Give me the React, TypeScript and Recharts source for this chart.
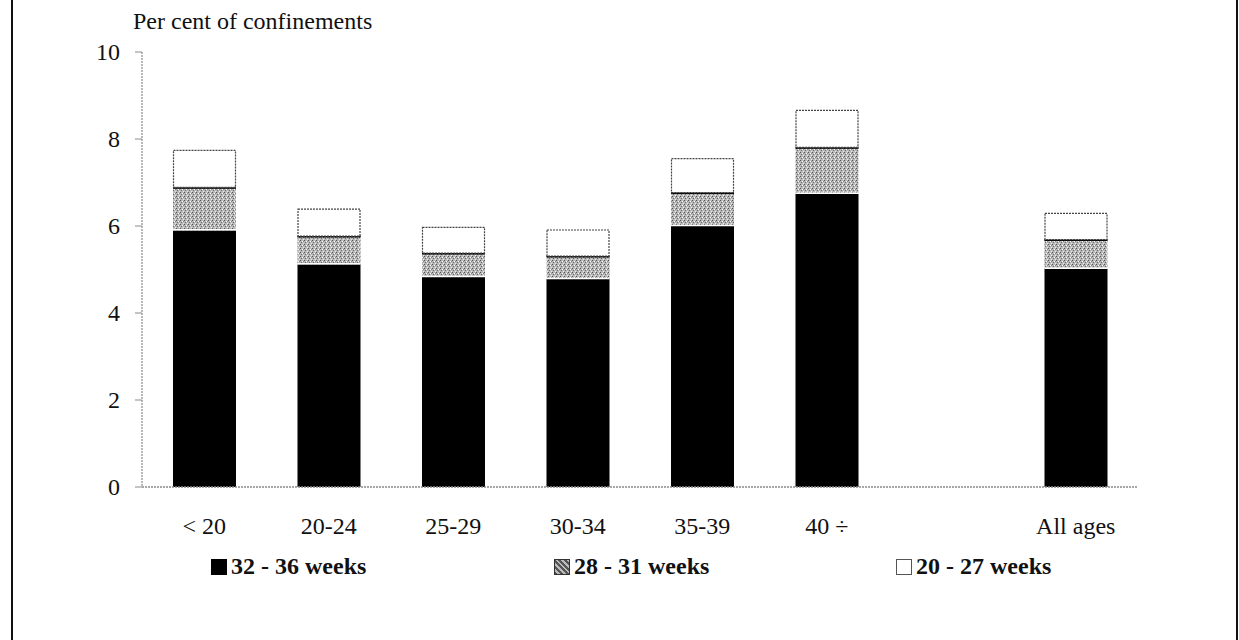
import React from "react";
import { BarChart, Bar, XAxis, YAxis } from "recharts";

const categories = ["< 20", "20-24", "25-29", "30-34", "35-39", "40 ÷", "", "All ages"];
const weeks32to36 = [5.9, 5.12, 4.83, 4.78, 6.0, 6.74, null, 5.02];
const weeks28to31 = [1.0, 0.66, 0.56, 0.54, 0.78, 1.08, null, 0.68];
const weeks20to27 = [0.85, 0.62, 0.59, 0.6, 0.78, 0.85, null, 0.6];
const yTicks = [0, 2, 4, 6, 8, 10];
const seriesNames = ["32 - 36 weeks", "28 - 31 weeks", "20 - 27 weeks"];

const data = categories.map((name, i) => ({
  name,
  a: weeks32to36[i],
  b: weeks28to31[i],
  c: weeks20to27[i],
}));

const SERIF = "'Liberation Serif', 'DejaVu Serif', serif";
const GRID = "#8a8a8a";
const FS = 24;

const GreyShape = (props: any) => {
  const { x, y, width, height } = props;
  if (!height || height <= 0) return null;
  return (
    <g>
      <rect x={x} y={y} width={width} height={height} fill="url(#stipple)" />
      <line x1={x} x2={x + width} y1={y + 1} y2={y + 1} stroke="#000" strokeWidth={2} />
      <line x1={x} x2={x + width} y1={y + height - 0.5} y2={y + height - 0.5} stroke="#fff" strokeWidth={1.5} />
    </g>
  );
};

const WhiteShape = (props: any) => {
  const { x, y, width, height } = props;
  if (!height || height <= 0) return null;
  return (
    <rect
      x={x + 0.5}
      y={y + 0.5}
      width={width - 1}
      height={height}
      fill="#fff"
      stroke="#444"
      strokeWidth={1.2}
      strokeDasharray="2 1"
    />
  );
};

const XTick = (props: any) => {
  const { x, y, payload } = props;
  return (
    <text x={x} y={y + 45} textAnchor="middle" fontFamily={SERIF} fontSize={FS} fill="#111">
      {payload.value}
    </text>
  );
};

const YTick = (props: any) => {
  const { x, y, payload } = props;
  return (
    <text x={x} y={y + 8} textAnchor="end" fontFamily={SERIF} fontSize={FS} fill="#111">
      {payload.value}
    </text>
  );
};

const LegendSwatch = ({ kind }: { kind: number }) => {
  const common: React.CSSProperties = {
    display: "inline-block",
    width: 16,
    height: 16,
    marginRight: 4,
    verticalAlign: "-1px",
    boxSizing: "border-box",
  };
  if (kind === 0) return <span style={{ ...common, background: "#000" }} />;
  if (kind === 1)
    return (
      <span
        style={{
          ...common,
          background: "repeating-linear-gradient(45deg,#555 0 2px,#bbb 2px 4px)",
          border: "1px solid #333",
        }}
      />
    );
  return <span style={{ ...common, background: "#fff", border: "1px solid #555" }} />;
};

const legendX = [211, 554, 896];

export default function App() {
  return (
    <div
      style={{
        position: "absolute",
        left: 0,
        top: 0,
        width: 1239,
        height: 640,
        background: "#fff",
        overflow: "hidden",
      }}
    >
      <div style={{ position: "absolute", left: 11, top: 0, width: 2, height: 640, background: "#111" }} />
      <div style={{ position: "absolute", left: 1236, top: 0, width: 2, height: 640, background: "#111" }} />
      <div
        style={{
          position: "absolute",
          left: 133,
          top: 8,
          fontFamily: SERIF,
          fontSize: FS,
          color: "#111",
          whiteSpace: "nowrap",
        }}
      >
        Per cent of confinements
      </div>
      <BarChart
        width={1239}
        height={640}
        data={data}
        margin={{ top: 52, right: 101, left: 0, bottom: 113 }}
        barSize={63}
      >
        <defs>
          <pattern id="stipple" width="4" height="4" patternUnits="userSpaceOnUse">
            <rect width="4" height="4" fill="#b8b8b8" />
            <rect x="0" y="0" width="1" height="1" fill="#555" />
            <rect x="2" y="1" width="1" height="1" fill="#fff" />
            <rect x="1" y="2" width="1" height="1" fill="#6a6a6a" />
            <rect x="3" y="3" width="1" height="1" fill="#e8e8e8" />
            <rect x="3" y="1" width="1" height="1" fill="#888" />
          </pattern>
        </defs>
        <XAxis
          dataKey="name"
          height={40}
          interval={0}
          tick={<XTick />}
          tickLine={false}
          tickSize={0}
          axisLine={{ stroke: GRID, strokeDasharray: "2 1", strokeWidth: 1.5 }}
        />
        <XAxis
          xAxisId="top"
          dataKey="name"
          orientation="top"
          height={0}
          tick={false}
          tickLine={false}
          axisLine={{ stroke: GRID, strokeDasharray: "2 1", strokeWidth: 1.5 }}
        />
        <YAxis
          width={142}
          domain={[0, 10]}
          ticks={yTicks}
          interval={0}
          tick={<YTick />}
          tickSize={7}
          tickMargin={15}
          tickLine={{ stroke: GRID }}
          axisLine={{ stroke: GRID, strokeDasharray: "2 1", strokeWidth: 1.2 }}
        />
        <YAxis
          yAxisId="right"
          orientation="right"
          width={0}
          domain={[0, 10]}
          tick={false}
          tickLine={false}
          axisLine={{ stroke: GRID, strokeDasharray: "2 1", strokeWidth: 1.2 }}
        />
        <Bar dataKey="a" name={seriesNames[0]} stackId="s" fill="#000" isAnimationActive={false} />
        <Bar dataKey="b" name={seriesNames[1]} stackId="s" shape={<GreyShape />} isAnimationActive={false} />
        <Bar dataKey="c" name={seriesNames[2]} stackId="s" shape={<WhiteShape />} isAnimationActive={false} />
      </BarChart>
      {seriesNames.map((n, i) => (
        <div
          key={n}
          style={{
            position: "absolute",
            left: legendX[i],
            top: 553,
            fontFamily: SERIF,
            fontWeight: "bold",
            fontSize: FS,
            color: "#111",
            whiteSpace: "nowrap",
          }}
        >
          <LegendSwatch kind={i} />
          {n}
        </div>
      ))}
    </div>
  );
}
